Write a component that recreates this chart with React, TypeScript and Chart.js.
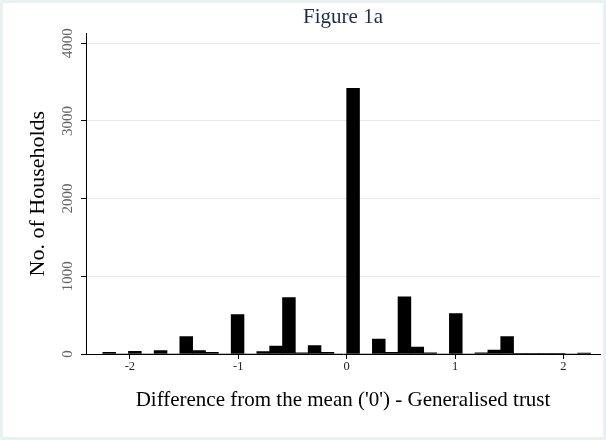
import React, { useEffect, useRef } from "react";
import { Chart, registerables } from "chart.js";

Chart.register(...registerables);

// Histogram bins (bin centres) and household counts
const BIN_CENTERS = [
  -2.1908, -2.0724, -1.9539, -1.8355, -1.7171, -1.5987, -1.4803, -1.3618,
  -1.2434, -1.125, -1.0066, -0.8882, -0.7697, -0.6513, -0.5329, -0.4145,
  -0.2961, -0.1776, -0.0592, 0.0592, 0.1776, 0.2961, 0.4145, 0.5329,
  0.6513, 0.7697, 0.8882, 1.0066, 1.125, 1.2434, 1.3618, 1.4803,
  1.5987, 1.7171, 1.8355, 1.9539, 2.0724, 2.1908,
];
const COUNTS = [
  20, 0, 35, 0, 45, 0, 223, 45,
  20, 0, 506, 0, 30, 103, 725, 15,
  107, 20, 0, 3420, 0, 193, 20, 737,
  90, 15, 0, 519, 0, 15, 50, 223,
  10, 10, 10, 10, 0, 12,
];
const X_TICKS = [-2, -1, 0, 1, 2];
const Y_TICKS = [0, 1000, 2000, 3000, 4000];
const X_MIN = -2.405;
const X_MAX = 2.337;
const Y_MAX = 4127;

const TITLE = "Figure 1a";
const X_TITLE = "Difference from the mean ('0') - Generalised trust";
const Y_TITLE = "No. of Households";

const SERIF = "'Liberation Serif', 'DejaVu Serif', serif";

export default function App() {
  const ref = useRef<HTMLCanvasElement | null>(null);

  useEffect(() => {
    if (!ref.current) return;
    const chart = new Chart(ref.current, {
      type: "bar",
      data: {
        datasets: [
          {
            data: BIN_CENTERS.map((x, i) => ({ x, y: COUNTS[i] })),
            backgroundColor: "#000",
            borderWidth: 0,
            categoryPercentage: 1,
            barPercentage: 1,
          } as any,
        ],
      },
      options: {
        animation: false,
        responsive: false,
        maintainAspectRatio: false,
        layout: { padding: { left: 0, right: 6, top: 0, bottom: 0 } },
        plugins: {
          legend: { display: false },
          tooltip: { enabled: false },
          title: {
            display: true,
            text: TITLE,
            fullSize: false,
            color: "#1c2b4e",
            font: { family: SERIF, size: 21, weight: "normal", lineHeight: 1.2 },
            padding: { top: 4.4, bottom: 3.7 },
          },
        },
        scales: {
          x: {
            type: "linear",
            min: X_MIN,
            max: X_MAX,
            offset: false,
            afterBuildTicks: (s: any) => {
              s.ticks = X_TICKS.map((value) => ({ value }));
            },
            afterFit: (s: any) => {
              s.height = 86;
            },
            grid: {
              display: true,
              drawOnChartArea: false,
              drawTicks: true,
              tickLength: 5,
              tickColor: "#000",
              offset: false,
            },
            border: { color: "#000", width: 1 },
            ticks: {
              autoSkip: false,
              maxRotation: 0,
              padding: 0,
              color: "#222",
              font: { family: SERIF, size: 12.5 },
              callback: (v: any) => String(v),
            },
            title: {
              display: true,
              text: X_TITLE,
              color: "#000",
              font: { family: SERIF, size: 21, lineHeight: 1.2 },
              padding: { top: 0, bottom: 27.4 },
            },
          } as any,
          y: {
            min: 0,
            max: Y_MAX,
            afterBuildTicks: (s: any) => {
              s.ticks = Y_TICKS.map((value) => ({ value }));
            },
            afterFit: (s: any) => {
              s.width = 86;
            },
            grid: {
              color: "#e8e8e8",
              tickColor: "#000",
              tickLength: 5,
              lineWidth: 1,
            },
            border: { color: "#000", width: 1 },
            ticks: {
              minRotation: 90,
              maxRotation: 90,
              crossAlign: "center",
              padding: -2,
              color: "#666",
              font: { family: SERIF, size: 15 },
              callback: (v: any) => String(v),
            },
            title: {
              display: true,
              text: Y_TITLE,
              color: "#000",
              font: { family: SERIF, size: 22, lineHeight: 1.2 },
              padding: { top: 25, bottom: 0 },
            },
          } as any,
        },
      },
    });
    return () => chart.destroy();
  }, []);

  return (
    <div
      style={{
        position: "relative",
        width: 606,
        height: 440,
        boxSizing: "border-box",
        border: "3px solid #e8f0f2",
        background: "#fff",
      }}
    >
      <style>{`body{margin:0;}`}</style>
      <canvas
        ref={ref}
        width={606}
        height={440}
        style={{ position: "absolute", left: -3, top: -3, width: 606, height: 440 }}
      />
    </div>
  );
}
